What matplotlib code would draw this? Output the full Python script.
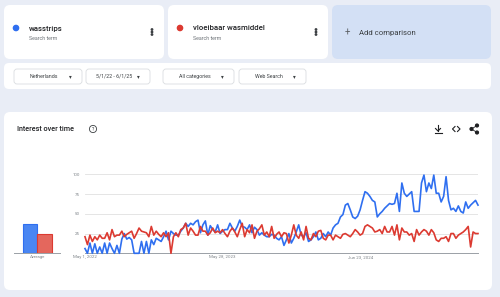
import numpy as np
import matplotlib
matplotlib.use("Agg")
import matplotlib.pyplot as plt
from matplotlib.patches import FancyBboxPatch, Circle

# --- data (weekly interest, May 1 2022 - Jun 1 2025) ---
terms = ["wasstrips", "vloeibaar wasmiddel"]
wasstrips = [
    6, 0, 13, 0, 12, 0, 8, 0, 13, 0,
    13, 6, 0, 10, 0, 18, 25, 18, 20, 17,
    0, 0, 0, 15, 0, 15, 0, 17, 11, 19,
    17, 15, 21, 28, 17, 28, 25, 23, 23, 28,
    32, 38, 34, 38, 36, 40, 42, 26, 36, 41,
    23, 35, 30, 27, 36, 25, 28, 30, 30, 38,
    32, 28, 34, 42, 34, 33, 30, 36, 26, 33,
    30, 23, 26, 23, 21, 21, 24, 23, 19, 17,
    21, 10, 17, 25, 13, 19, 27, 36, 23, 21,
    26, 15, 17, 21, 27, 17, 19, 25, 21, 27,
    23, 32, 36, 38, 46, 49, 61, 63, 55, 46,
    44, 47, 55, 67, 78, 76, 72, 67, 65, 46,
    50, 53, 57, 60, 63, 62, 63, 76, 53, 89,
    76, 72, 75, 78, 53, 53, 53, 89, 99, 78,
    89, 82, 99, 76, 76, 65, 72, 97, 67, 55,
    57, 53, 60, 53, 51, 65, 57, 61, 64, 67,
    61,
]
vloeibaar = [
    21, 11, 23, 15, 21, 17, 23, 19, 19, 26,
    17, 30, 21, 23, 23, 28, 21, 24, 26, 28,
    19, 25, 32, 28, 27, 26, 21, 34, 23, 28,
    24, 21, 26, 21, 26, 0, 21, 26, 21, 30,
    32, 38, 23, 32, 28, 23, 23, 34, 28, 28,
    23, 26, 32, 26, 28, 26, 30, 25, 21, 28,
    32, 27, 21, 30, 38, 21, 30, 26, 36, 19,
    28, 31, 36, 23, 27, 21, 34, 19, 24, 27,
    21, 26, 25, 13, 23, 36, 23, 19, 27, 17,
    34, 19, 17, 25, 21, 28, 29, 19, 17, 23,
    23, 17, 23, 21, 19, 24, 25, 23, 21, 25,
    30, 27, 23, 25, 34, 36, 34, 32, 27, 28,
    30, 25, 34, 27, 27, 34, 23, 36, 17, 32,
    27, 27, 23, 25, 15, 30, 23, 27, 30, 28,
    23, 30, 26, 17, 15, 19, 19, 21, 15, 25,
    25, 19, 23, 25, 27, 30, 34, 8, 27, 25,
    25,
]
date_ticks = [0, 56, 112]
date_labels = ["May 1, 2022", "May 28, 2023", "Jun 23, 2024"]
y_ticks = [25, 50, 75, 100]
filters = ["Netherlands", "5/1/22 - 6/1/25", "All categories", "Web Search"]

BLUE = "#2f6ff0"
RED = "#dc3a31"
BG = "#e9edf6"
W, H = 500, 297

plt.rcParams["font.family"] = ["Roboto", "DejaVu Sans"]
fig = plt.figure(figsize=(W / 100, H / 100), dpi=100)
fig.patch.set_facecolor(BG)


def px_axes(x0, y0, x1, y1):
    return fig.add_axes([x0 / W, 1 - y1 / H, (x1 - x0) / W, (y1 - y0) / H])


bg = fig.add_axes([0, 0, 1, 1])
bg.set_xlim(0, W)
bg.set_ylim(H, 0)
bg.axis("off")


def card(x0, y0, x1, y1, fc="white", ec="none", r=6, lw=0.6):
    bg.add_patch(FancyBboxPatch((x0, y0), x1 - x0, y1 - y0,
                                boxstyle=f"round,pad=0,rounding_size={r}",
                                fc=fc, ec=ec, lw=lw))


# search term cards
card(4, 5, 164, 59)
card(168, 5, 328, 59)
card(332, 5, 491, 59, fc="#d3e0f5")
for (x, color, term) in [(16, BLUE, terms[0]), (180, RED, terms[1])]:
    bg.add_patch(Circle((x, 28), 2.6, color=color))
    bg.text(x + 13, 28.5, term, fontsize=5.6, color="#202124", va="center",
            fontweight="medium")
    bg.text(x + 13, 38, "Search term", fontsize=3.8, color="#70757a", va="center")
    for dy in (-2.5, 0, 2.5):
        bg.add_patch(Circle((x + 136, 32 + dy), 0.7, color="#3c4043"))
bg.text(347, 33, "+", fontsize=7, color="#5f6368", va="center", ha="center")
bg.text(359, 33, "Add comparison", fontsize=5.6, color="#3c4043", va="center")

# filter bar
card(4, 63, 491, 89, r=5)
chips = [(14, 82), (86, 150), (163, 234), (239, 306)]
for (x0, x1), label in zip(chips, filters):
    card(x0, 69, x1, 84, ec="#dadce0", r=3)
    bg.text((x0 + x1) / 2 - 4, 76.5, label, fontsize=3.8, color="#3c4043",
            va="center", ha="center")
    bg.text(x1 - 12, 76.5, "\u25BE", fontsize=4, color="#3c4043",
            va="center", ha="center")

# chart card
card(4, 112, 492, 290)
bg.text(17, 129, "Interest over time", fontsize=5.2, color="#202124", va="center",
        fontweight="medium")
bg.add_patch(Circle((93, 129), 3.6, fc="none", ec="#3c4043", lw=0.6))
bg.text(93, 129.3, "?", fontsize=3.6, color="#3c4043", va="center", ha="center")
# download icon
bg.plot([438, 438], [125, 131], color="#202124", lw=0.8)
bg.plot([435.5, 438, 440.5], [128.5, 131, 128.5], color="#202124", lw=0.8)
bg.plot([434.5, 441.5], [133, 133], color="#202124", lw=0.8)
# embed icon
bg.plot([455, 452.5, 455], [126.5, 129, 131.5], color="#202124", lw=0.8)
bg.plot([457.5, 460, 457.5], [126.5, 129, 131.5], color="#202124", lw=0.8)
# share icon
pts = [(477, 125.5), (471.5, 129), (477, 132.5)]
bg.plot([p[0] for p in pts], [p[1] for p in pts], color="#202124", lw=0.6)
for p in pts:
    bg.add_patch(Circle(p, 1.4, color="#202124"))

# average bars
avg_ax = px_axes(14, 174.3, 60, 253.3)
avgs = [np.mean(wasstrips), np.mean(vloeibaar)]
avg_ax.bar([0, 1], avgs, width=1.0, color=["#4a86f2", "#e4675d"],
           edgecolor=[BLUE, RED], linewidth=0.8)
avg_ax.set_xlim(-1.1, 2.07)
avg_ax.set_ylim(0, 100)
avg_ax.patch.set_alpha(0)
for s in ["top", "right", "left"]:
    avg_ax.spines[s].set_visible(False)
avg_ax.spines["bottom"].set_color("#9aa0a6")
avg_ax.spines["bottom"].set_linewidth(0.7)
avg_ax.set_yticks([])
avg_ax.set_xticks([0.5])
avg_ax.set_xticklabels(["Average"])
avg_ax.tick_params(length=0, labelsize=3.1, colors="#80868b", pad=1.2)

# main time series
ax = px_axes(85, 174.3, 478, 253.3)
weeks = np.arange(len(wasstrips))
ax.plot(weeks, wasstrips, color=BLUE, lw=1.2, clip_on=False, zorder=3)
ax.plot(weeks, vloeibaar, color=RED, lw=1.2, clip_on=False, zorder=3)
ax.set_xlim(0, len(weeks) - 1)
ax.set_ylim(0, 100)
ax.patch.set_alpha(0)
for s in ["top", "right", "left"]:
    ax.spines[s].set_visible(False)
ax.spines["bottom"].set_color("#9aa0a6")
ax.spines["bottom"].set_linewidth(0.7)
ax.set_yticks(y_ticks)
ax.set_yticklabels([str(v) for v in y_ticks])
ax.set_xticks(date_ticks)
ax.set_xticklabels(date_labels)
ax.yaxis.grid(True, color="#e0e0e0", lw=0.6)
ax.tick_params(length=0, labelsize=3.2, colors="#80868b")
ax.tick_params(axis="y", pad=3.6)
ax.tick_params(axis="x", pad=1.2)

fig.savefig("out.png", dpi=100, facecolor=BG)
